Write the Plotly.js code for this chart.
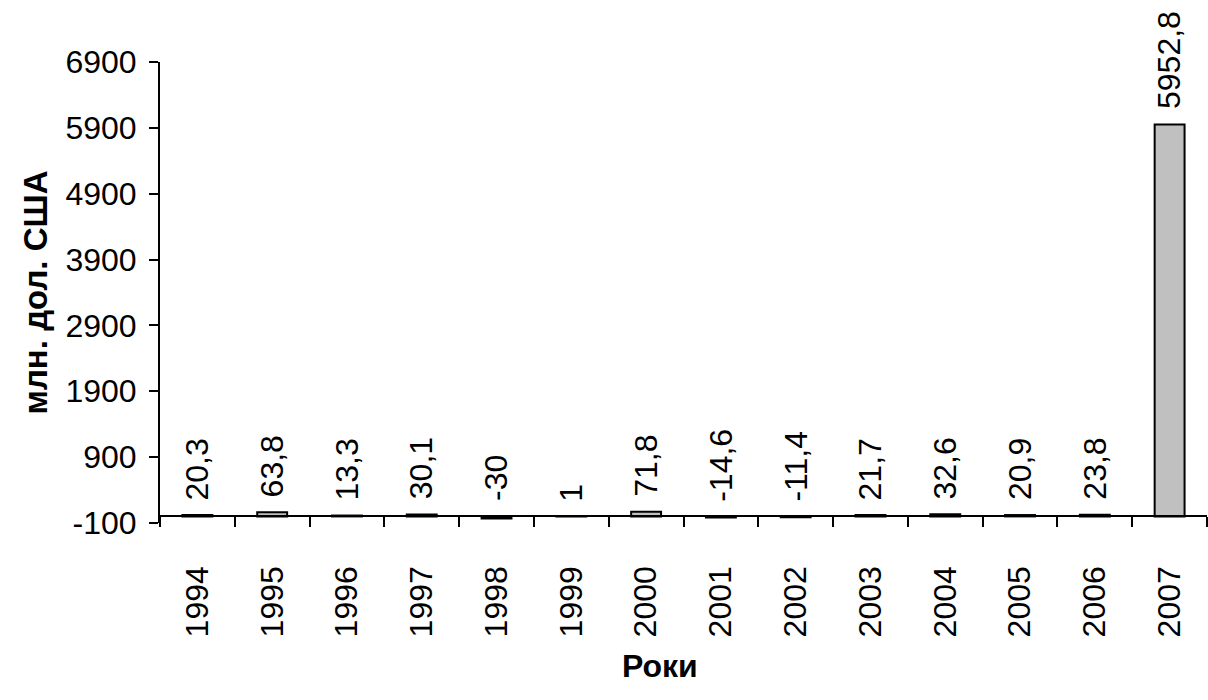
<!DOCTYPE html>
<html>
<head>
<meta charset="utf-8">
<script src="https://cdn.plot.ly/plotly-3.0.1.min.js"></script>
<style>
  html, body { margin: 0; padding: 0; background: #fff; }
  #chart { width: 1208px; height: 700px; }
</style>
</head>
<body>
<div id="chart"></div>
<script>
// Annual values, million US dollars
const years = ['1994', '1995', '1996', '1997', '1998', '1999', '2000',
               '2001', '2002', '2003', '2004', '2005', '2006', '2007'];
const values = [20.3, 63.8, 13.3, 30.1, -30, 1, 71.8,
                -14.6, -11.4, 21.7, 32.6, 20.9, 23.8, 5952.8];
const valueLabels = ['20,3', '63,8', '13,3', '30,1', '-30', '1', '71,8',
                     '-14,6', '-11,4', '21,7', '32,6', '20,9', '23,8', '5952,8'];
const yTickVals = [-100, 900, 1900, 2900, 3900, 4900, 5900, 6900];
const yTickLabels = ['-100', '900', '1900', '2900', '3900', '4900', '5900', '6900'];

const FONT = 'Liberation Sans, Arial, sans-serif';

const bars = {
  type: 'bar',
  x: years,
  y: values,
  marker: { color: '#c0c0c0', line: { color: '#000', width: 2 } },
  hoverinfo: 'x+y'
};

// Value labels sit above the baseline (or bar top), rotated upward.
// On a category axis annotations take the category index.
const labels = years.map((yr, i) => ({
  x: i,
  y: Math.max(values[i], 0),
  xref: 'x', yref: 'y',
  text: valueLabels[i],
  textangle: -90,
  showarrow: false,
  xanchor: 'center',
  yanchor: 'bottom',
  yshift: 13,
  font: { family: FONT, size: 32, color: '#000' }
}));

const layout = {
  width: 1208,
  height: 700,
  margin: { l: 160, r: 1, t: 62, b: 177 },
  paper_bgcolor: '#fff',
  plot_bgcolor: '#fff',
  showlegend: false,
  bargap: 0.6,
  font: { family: FONT, size: 32, color: '#000' },
  xaxis: {
    type: 'category',
    range: [-0.5, years.length - 0.5],
    anchor: 'free',
    position: 100 / 7000,
    showline: true,
    linecolor: '#000',
    linewidth: 2,
    ticks: 'outside',
    tickson: 'boundaries',
    ticklen: 10,
    tickwidth: 2,
    tickcolor: '#000',
    tickangle: -90,
    ticklabelstandoff: 36,
    tickfont: { family: FONT, size: 32, color: '#000' },
    showgrid: false,
    automargin: false
  },
  yaxis: {
    range: [-100, 6900],
    tickmode: 'array',
    tickvals: yTickVals,
    ticktext: yTickLabels,
    showline: true,
    linecolor: '#000',
    linewidth: 2,
    ticks: 'outside',
    ticklen: 9,
    tickwidth: 2,
    tickcolor: '#000',
    ticklabelstandoff: 6,
    tickfont: { family: FONT, size: 32, color: '#000' },
    showgrid: false,
    zeroline: false,
    automargin: false,
    title: {
      text: 'млн. дол. США',
      font: { family: FONT, size: 33, color: '#000', weight: 'bold' },
      standoff: 8
    }
  },
  annotations: labels.concat([{
    // horizontal axis title
    xref: 'paper', yref: 'paper',
    x: 0.478, y: 0,
    xanchor: 'center', yanchor: 'top',
    yshift: -123,
    text: 'Роки',
    showarrow: false,
    font: { family: FONT, size: 32, color: '#000', weight: 'bold' }
  }])
};

Plotly.newPlot('chart', [bars], layout, { displayModeBar: false, staticPlot: true });
</script>
</body>
</html>
